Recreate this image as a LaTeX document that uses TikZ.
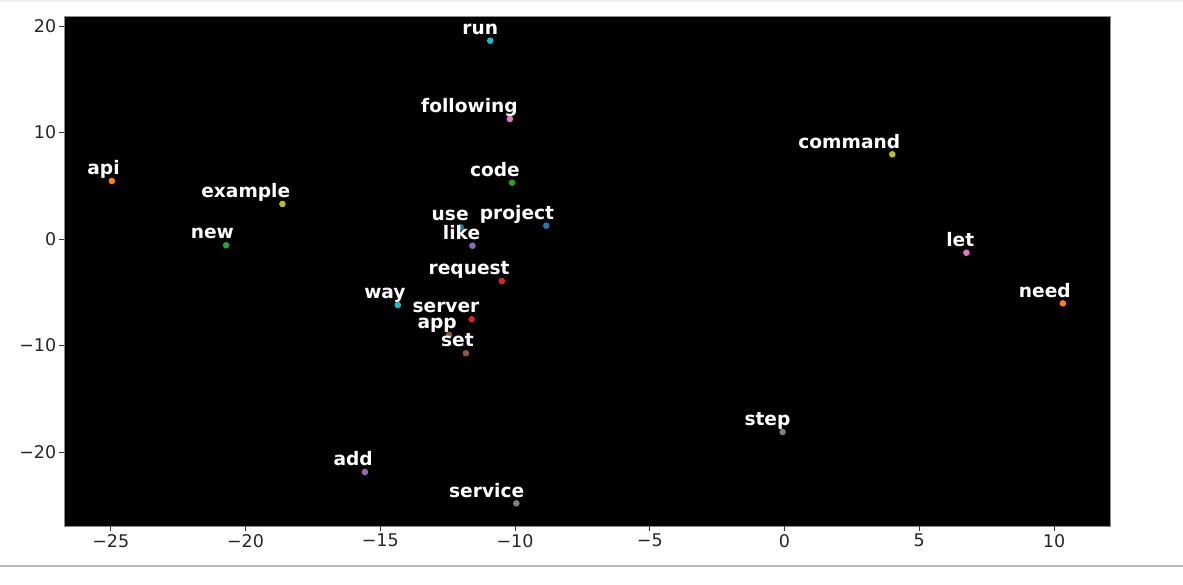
\documentclass[tikz,border=0pt]{standalone}
\usepackage{fontspec}
\setmainfont{DejaVu Sans}
\definecolor{tabblue}{HTML}{1F77B4}
\definecolor{taborange}{HTML}{FF7F0E}
\definecolor{tabgreen}{HTML}{2CA02C}
\definecolor{tabred}{HTML}{D62728}
\definecolor{tabpurple}{HTML}{9467BD}
\definecolor{tabbrown}{HTML}{8C564B}
\definecolor{tabpink}{HTML}{E377C2}
\definecolor{tabgray}{HTML}{7F7F7F}
\definecolor{tabolive}{HTML}{BCBD22}
\definecolor{tabcyan}{HTML}{17BECF}
\definecolor{framegray}{HTML}{B8B8B8}
\definecolor{bandgray}{HTML}{F2F2F2}
\tikzset{
  dotpt/.style={circle, fill=#1, draw=none, inner sep=0pt, minimum size=6.6pt},
  wordlbl/.style={anchor=base east, inner sep=0pt, text=white,
    font=\fontsize{18.6}{20}\selectfont\bfseries},
  ticklbl/.style={inner sep=0pt, text=black!85,
    font=\fontsize{17.5}{19}\selectfont},
  tickmark/.style={draw=black!80, line width=0.8pt}
}
\begin{document}
\begin{tikzpicture}[x=1pt,y=1pt]
\useasboundingbox (0,0) rectangle (1183,584);
\fill[white] (0,0) rectangle (1183,584);
\fill[bandgray] (0,582) rectangle (1183,584);
\draw[framegray, line width=1.5pt] (0,18) -- (1183,18);
\begin{scope}[shift={(784.5,345)}, x=26.95pt, y=10.65pt]
  % axes
  \coordinate (axll) at (-26.72,-26.95);
  \coordinate (axur) at (12.11,20.94);
  \fill[black] (axll) rectangle (axur);
  \draw[black!45, line width=0.8pt] (axll) rectangle (axur);
  % x ticks
  \foreach \t/\s in {-25/{−25},-20/{−20},-15/{−15},-10/{−10},-5/{−5},0/0,5/5,10/10} {
    \coordinate (xt\t) at (\t,-26.95);
    \draw[tickmark] (xt\t) -- ++(0,-5pt) coordinate (xe\t);
    \node[ticklbl, anchor=north] (xl\t) at ([yshift=-3pt]xe\t) {\s};
  }
  % y ticks
  \foreach \t/\s in {-20/{−20},-10/{−10},0/0,10/10,20/20} {
    \coordinate (yt\t) at (-26.72,\t);
    \draw[tickmark] (yt\t) -- ++(-5pt,0) coordinate (ye\t);
    \node[ticklbl, anchor=east] (yl\t) at ([xshift=-3pt]ye\t) {\s};
  }
  % dots
  \foreach \n/\x/\y/\c in {
    run/-10.92/18.62/tabcyan,
    following/-10.19/11.27/tabpink,
    code/-10.11/5.29/tabgreen,
    use/-12.01/1.10/tabblue,
    project/-8.84/1.25/tabblue,
    like/-11.58/-0.63/tabpurple,
    request/-10.49/-3.94/tabred,
    way/-14.35/-6.20/tabcyan,
    server/-11.61/-7.54/tabred,
    app/-12.45/-9.01/tabbrown,
    set/-11.82/-10.73/tabbrown,
    api/-24.96/5.45/taborange,
    example/-18.63/3.29/tabolive,
    new/-20.72/-0.59/tabgreen,
    add/-15.57/-21.88/tabpurple,
    command/4.00/7.95/tabolive,
    let/6.75/-1.29/tabpink,
    need/10.33/-6.04/taborange,
    step/-0.07/-18.12/tabgray,
    service/-9.95/-24.82/tabgray} {
    \node[dotpt=\c] (\n) at (\x,\y) {};
  }
  % labels
  \foreach \n in {run,following,code,use,project,like,request,way,server,app,
    set,api,example,new,add,command,let,need,step,service} {
    \node[wordlbl] (\n-lbl) at ([shift={(8pt,6.3pt)}]\n.center) {\n};
  }
\end{scope}
\end{tikzpicture}
\end{document}
